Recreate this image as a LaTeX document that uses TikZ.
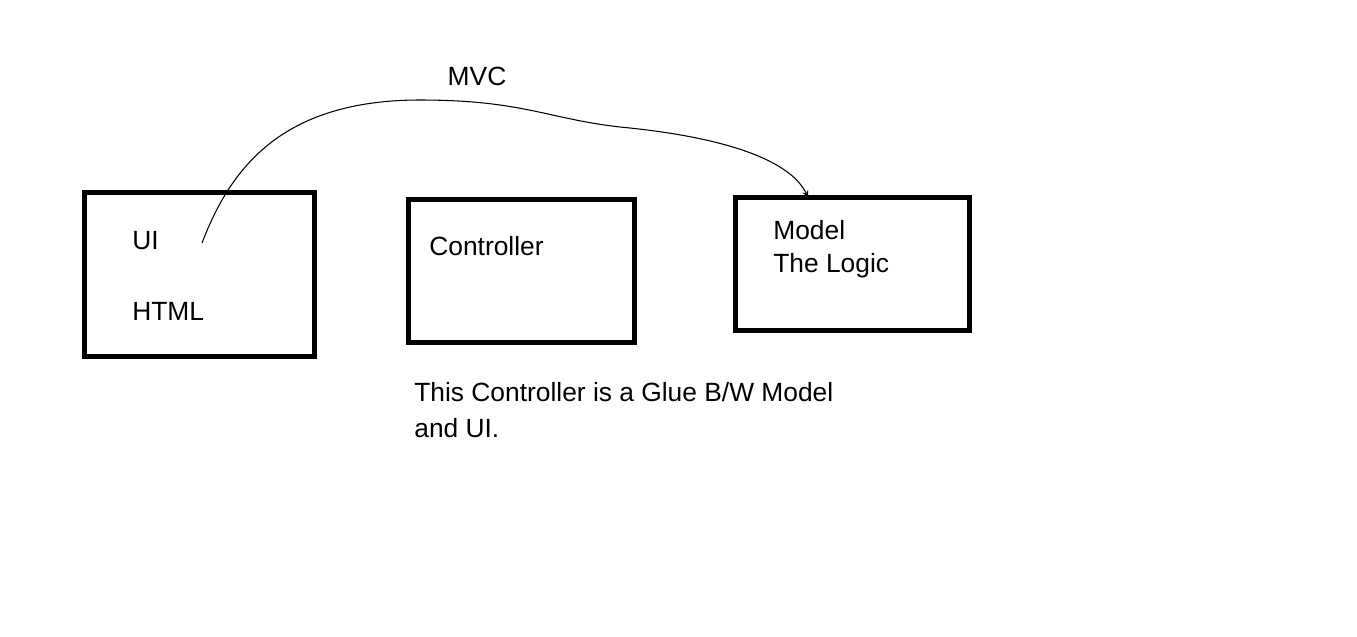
\documentclass[tikz,border=0pt]{standalone}
\usepackage{fontspec}
\setmainfont{Liberation Sans}
\usepackage{tikz}
\usetikzlibrary{positioning, arrows}
\tikzstyle{block} = [rectangle, draw=black, line width=0.1cm, inner sep=0pt, outer sep=0pt]
\tikzstyle{boxtext} = [anchor=west, inner sep=0pt, font=\fontsize{15}{18}\selectfont]
\tikzstyle{arrow} = [line width=0.6pt,->,>=stealth]

\begin{document}
\begin{tikzpicture}
\useasboundingbox (0,0) rectangle (27.14,-12.72);

\node (ui) [block, minimum width=4.6cm, minimum height=3.28cm] at (3.98,-5.48) {};
\node (controller) [block, minimum width=4.52cm, minimum height=2.86cm, right=1.88cm of ui, yshift=0.07cm] {};
\node (model) [block, minimum width=4.68cm, minimum height=2.66cm, right=2.02cm of controller, yshift=0.14cm] {};

\node (uitext) [boxtext, xshift=0.96cm, yshift=-0.98cm] at (ui.north west) {UI};
\node (htmltext) [boxtext, xshift=0.96cm, yshift=-2.38cm] at (ui.north west) {HTML};
\node (controllertext) [boxtext, xshift=0.42cm, yshift=-0.94cm] at (controller.north west) {Controller};
\node (modeltext) [boxtext, xshift=0.76cm, yshift=-0.66cm] at (model.north west) {Model};
\node (logictext) [boxtext, xshift=0.76cm, yshift=-1.38cm] at (model.north west) {The Logic};
\node (note) [boxtext, xshift=0.12cm, yshift=-1.0cm] at (controller.south west) {This Controller is a Glue B/W Model};
\node (noteend) [boxtext, xshift=0.12cm, yshift=-1.72cm] at (controller.south west) {and UI.};
\node (mvc) [boxtext, anchor=center] at (9.54,-1.52) {MVC};

\coordinate (uistart) at (4.04,-4.86);
\draw [arrow] (uistart) .. controls (4.6,-3.4) and (5.6,-2.0) .. (8.4,-2.0)
  .. controls (10.5,-2.0) and (11,-2.4) .. (12.5,-2.55)
  .. controls (14.5,-2.75) and (15.8,-3.2) .. ([xshift=-0.88cm]model.north);

\end{tikzpicture}
\end{document}
